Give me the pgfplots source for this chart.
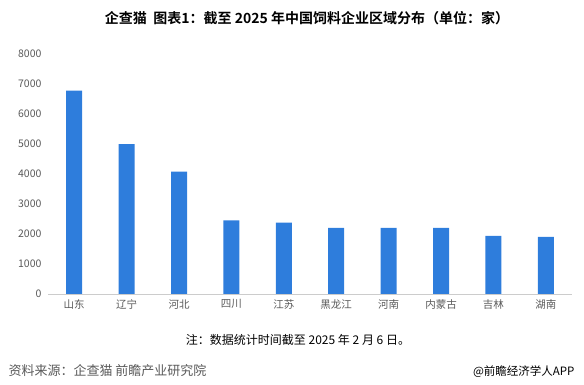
\documentclass[border=0pt]{standalone}
\usepackage{fontspec}
\usepackage{pgfplots}
\pgfplotsset{compat=1.18}
\setmainfont{Noto Sans CJK SC}
\newfontfamily\cjk{Noto Sans CJK SC}
\newfontfamily\cjkb{Noto Sans CJK SC Bold}
\definecolor{barblue}{RGB}{46,125,220}
\definecolor{txtgray}{RGB}{89,89,89}
\begin{document}
\begin{tikzpicture}
\begin{axis}[
  at={(48pt,91pt)}, anchor=south west,
  scale only axis, width=524pt, height=240pt,
  xmin=-0.5, xmax=9.5, ymin=0, ymax=8000,
  ytick={0,1000,...,8000},
  xtick={0,...,9},
  xticklabels={山东,辽宁,河北,四川,江苏,黑龙江,河南,内蒙古,吉林,湖南},
  axis x line*=bottom,
  axis y line*=left,
  x axis line style={-, draw=black!20},
  y axis line style={draw=none},
  major tick length=0pt,
  tick style={draw=none},
  /pgf/number format/assume math mode=true,
  /pgf/number format/1000 sep={},
  yticklabel style={font=\fontsize{10.5}{12}\selectfont, text=txtgray, xshift=-3pt},
  xticklabel style={font=\cjk\fontsize{10.5}{12}\selectfont, text=txtgray, yshift=-2pt},
  clip=false,
]
\addplot[ybar, bar width=16pt, fill=barblue, draw=none] coordinates {
(0,6780) (1,5000) (2,4080) (3,2450) (4,2380) (5,2200) (6,2200) (7,2200) (8,1940) (9,1900)};
\end{axis}
\node[font=\cjkb\fontsize{14}{16}\selectfont] at (307pt,367pt) {企查猫\ \ 图表1：截至 2025 年中国饲料企业区域分布（单位：家）};
\node[font=\cjk\fontsize{12}{14}\selectfont] at (298pt,45pt) {注：数据统计时间截至 2025 年 2 月 6 日。};
\node[anchor=west, font=\cjk\fontsize{13}{15}\selectfont, text=txtgray] at (5pt,14pt) {资料来源：企查猫 前瞻产业研究院};
\node[anchor=east, font=\cjk\fontsize{11.5}{13}\selectfont] at (578pt,13pt) {@前瞻经济学人APP};
\pgfresetboundingbox
\useasboundingbox (0,0) rectangle (584pt,385pt);
\end{tikzpicture}
\end{document}
